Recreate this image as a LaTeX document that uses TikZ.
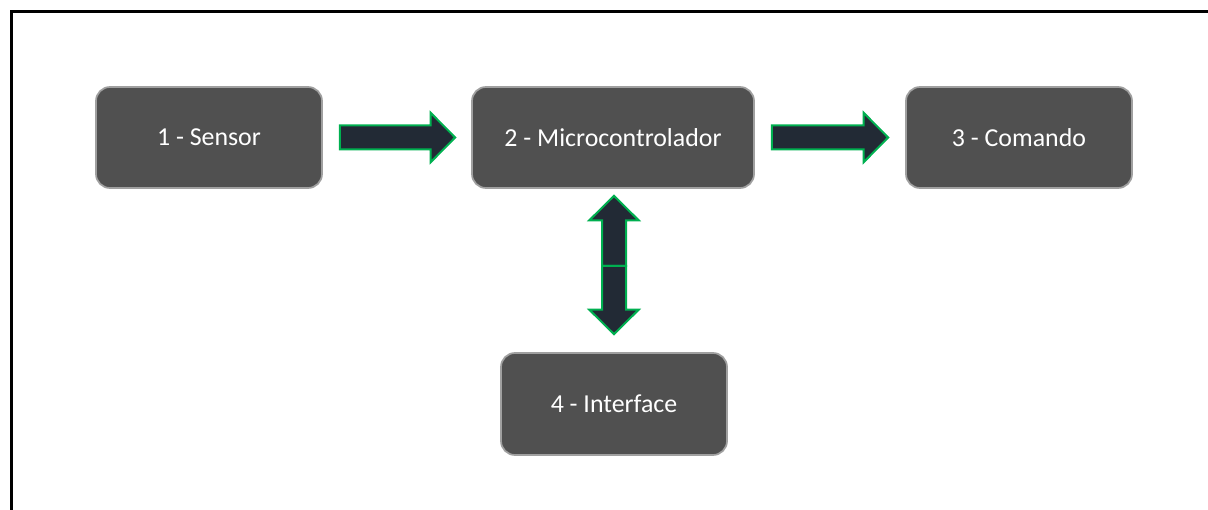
\documentclass[tikz,border=0pt]{standalone}
\usepackage{fontspec}
\setmainfont{Carlito}
\usetikzlibrary{calc}
\definecolor{boxfill}{HTML}{505050}
\definecolor{boxline}{HTML}{A0A0A0}
\definecolor{arrfill}{HTML}{222A35}
\definecolor{arrline}{HTML}{00B050}

\begin{document}
\begin{tikzpicture}[
  x=0.75pt, y=-0.75pt,
  blk/.style={rectangle, rounded corners=10.5pt, draw=boxline, line width=1.3pt, fill=boxfill,
    text=white, font=\fontsize{19.4}{23}\selectfont, inner sep=0pt,
    minimum width=169.5pt, minimum height=75.75pt},
  barrow/.style={fill=arrfill, draw=arrline, line width=1.5pt, line join=miter,
    to path={let \p1=(\tikztostart), \p2=(\tikztotarget), \p3=($(\p2)!18.4pt!(\p1)$) in
      ($(\p1)!9pt!90:(\p2)$) -- ($(\p3)!9pt!90:(\p2)$) -- ($(\p3)!18.6pt!90:(\p2)$) -- (\p2)
      -- ($(\p3)!18.6pt!-90:(\p2)$) -- ($(\p3)!9pt!-90:(\p2)$) -- ($(\p1)!9pt!-90:(\p2)$) -- cycle}}
  ]
  \useasboundingbox (0,0) rectangle (1208,510);
  % frame
  \draw[line width=2.6pt] (1208,11.5) -- (11.5,11.5) -- (11.5,510);
  % blocks
  \node[blk] (sensor) at (209,137.5) {1 - Sensor};
  \node[blk, minimum width=211.5pt] (micro) at (613,137.5) {2 - Microcontrolador};
  \node[blk] (comando) at (1019,137.5) {3 - Comando};
  \node[blk, minimum height=76.5pt] (iface) at (614,404) {4 - Interface};
  % arrows
  \draw[barrow] ([xshift=12.75pt]sensor.east) to ([xshift=-12pt]micro.west);
  \draw[barrow] ([xshift=12.75pt]micro.east) to ([xshift=-12.75pt]comando.west);
  \coordinate (vmid) at ([xshift=0.75pt, yshift=-57.75pt]micro.south);
  \draw[barrow] (vmid) to ([xshift=0.75pt, yshift=-5.25pt]micro.south);
  \draw[barrow] (vmid) to ([yshift=13.5pt]iface.north);
\end{tikzpicture}
\end{document}
